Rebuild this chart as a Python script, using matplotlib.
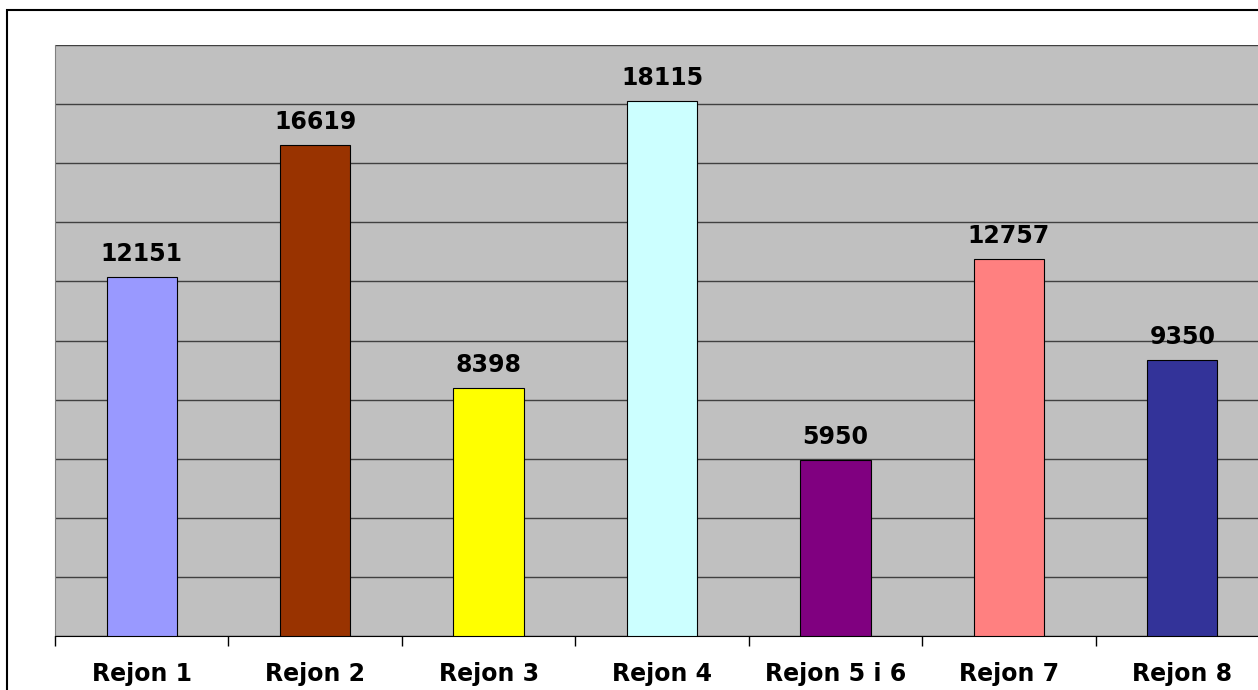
import matplotlib.pyplot as plt
from matplotlib.patches import Rectangle

#%% Data
regions = ["Rejon 1", "Rejon 2", "Rejon 3", "Rejon 4", "Rejon 5 i 6", "Rejon 7", "Rejon 8"]
values = [12151, 16619, 8398, 18115, 5950, 12757, 9350]
colors = ["#9999FF", "#993300", "#FFFF00", "#CCFFFF", "#800080", "#FF8080", "#333399"]

W, H = 1258, 690
plt.rcParams['font.family'] = ['DejaVu Sans']

fig = plt.figure(figsize=(W / 100, H / 100), dpi=100)

# outer chart frame (cut off at right and bottom)
fig.patches.append(Rectangle((7 / W, -0.1), 1.2, (H - 10) / H + 0.1,
                             transform=fig.transFigure, fill=False,
                             edgecolor='black', linewidth=1.5))

ax = fig.add_axes([55 / W, 54 / H, (1269 - 55) / W, (636 - 45) / H])
ax.set_facecolor('#C0C0C0')

x = range(len(regions))
ax.bar(x, values, width=0.405, color=colors, edgecolor='black',
       linewidth=0.8, zorder=3)
for i, v in enumerate(values):
    ax.annotate(str(v), (i, v), xytext=(0, 11.5), textcoords='offset points',
                ha='center', va='baseline', fontsize=17, fontweight='bold')

ax.set_xlim(-0.5, len(regions) - 0.5)
ax.set_ylim(0, 20000)
ax.set_yticks(range(0, 20001, 2000))
ax.set_yticklabels([])
ax.tick_params(axis='y', length=0)
ax.yaxis.grid(True, color='#404040', linewidth=1, zorder=0)
ax.set_axisbelow(True)

ax.set_xticks([i - 0.5 for i in range(len(regions) + 1)], minor=False)
ax.set_xticklabels([])
ax.set_xticks(list(x), minor=True)
ax.set_xticklabels(regions, minor=True, fontsize=17, fontweight='bold')
ax.tick_params(axis='x', which='minor', length=0, pad=19)
ax.tick_params(axis='x', which='major', length=7, width=1, direction='out')

for s in ['top', 'right']:
    ax.spines[s].set_visible(False)
ax.spines['left'].set_color('#808080')
ax.spines['bottom'].set_color('black')

fig.savefig("out.png", dpi=100)
